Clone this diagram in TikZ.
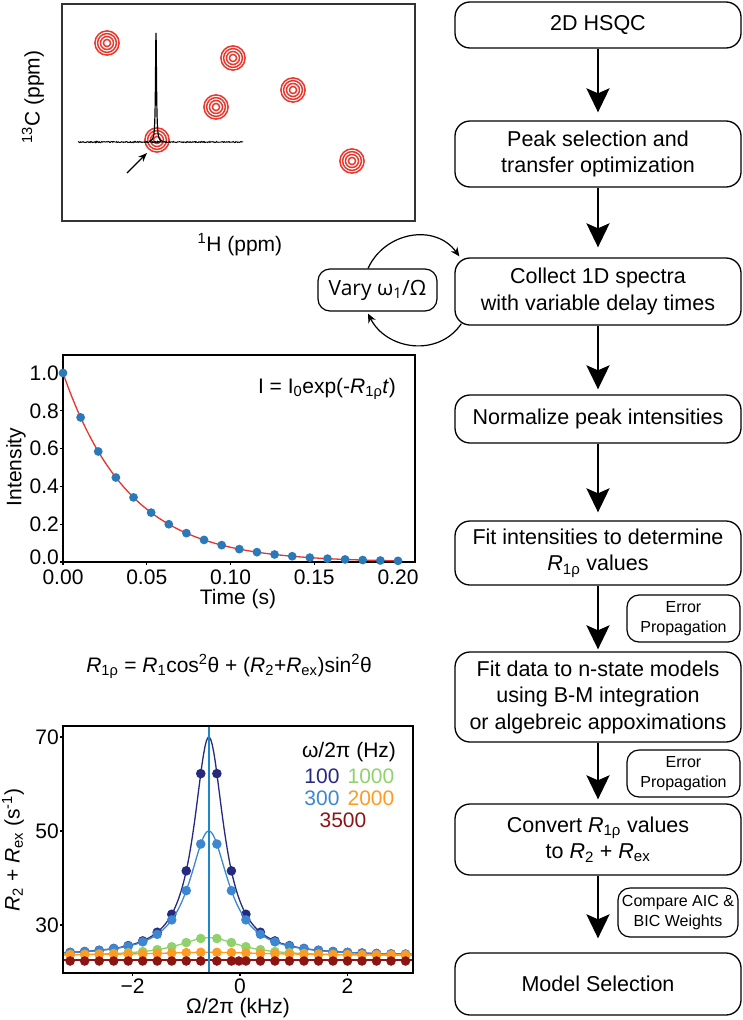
\documentclass[tikz,border=0pt]{standalone}
\usepackage{fontspec}
\setmainfont{Liberation Sans}
\newfontfamily\opensans{Open Sans}
\usetikzlibrary{arrows.meta}
\definecolor{ringred}{HTML}{E8372C}
\definecolor{ptblue}{HTML}{2A7AB9}
\definecolor{fitred}{HTML}{E8322B}
\definecolor{cnavy}{HTML}{252A7E}
\definecolor{cblue}{HTML}{3D87D0}
\definecolor{cgreen}{HTML}{8FD16A}
\definecolor{corange}{HTML}{FF9A22}
\definecolor{cdred}{HTML}{8B1515}
\definecolor{vline}{HTML}{1F86C8}
\pgfmathdeclarefunction{lrz}{4}{\pgfmathparse{#2+#3/(1+((#1+0.58)/#4)*((#1+0.58)/#4))}}
\begin{document}
\begin{tikzpicture}[x=1pt,y=-1pt,
  flow/.style={draw, line width=1.3pt, rounded corners=15pt, minimum width=286pt, align=center, inner sep=0pt, font=\fontsize{21.5}{26.5}\selectfont},
  smallbox/.style={draw, line width=1.2pt, rounded corners=12pt, align=center, inner sep=0pt, font=\fontsize{16}{20}\selectfont},
  flowarrow/.style={-{Stealth[length=24pt,width=23pt,inset=5pt]}, line width=2.6pt},
  looparrow/.style={-{Stealth[length=9pt,width=8pt]}, line width=1.2pt},
  lbl/.style={font=\fontsize{21}{25}\selectfont, inner sep=0pt},
  frame/.style={line width=1.4pt},
  tick/.style={line width=1.2pt}]
\useasboundingbox (0,0) rectangle (742,1020);

% ---------------- Spectrum panel ----------------
\draw[frame, draw=black!80] (62,4) rectangle (415,221);
\foreach \cx/\cy in {107/43,233/58,293/90,216/107,157/140,352/161}{
  \foreach \r in {3.6,6.5,9.4,12.1}
    \draw[ringred, line width=1.5pt] (\cx,\cy) circle[radius=\r pt];
}
\pgfmathsetseed{7}
\draw[line width=0.9pt] plot[domain=78:243, samples=300] (\x,{142+0.6*rand});
\draw[line width=1.2pt] plot[domain=149:163, samples=141] (\x,{142-109/(1+((\x-156)/0.6)*((\x-156)/0.6))});
\coordinate (sa) at (127,173);
\coordinate (sb) at (147,153);
\draw[-{Stealth[length=9pt,width=7pt]}, line width=1.2pt] (sa) -- (sb);
\node[lbl, rotate=90] (ylab1) at (33,97) {\textsuperscript{13}C (ppm)};
\node[lbl, anchor=base] (xlab1) at (240,251) {\textsuperscript{1}H (ppm)};

% ---------------- Plot 1 ----------------
\draw[frame] (63,355) rectangle (415,562);
\foreach \v/\t in {0.2/0.2,0.4/0.4,0.6/0.6,0.8/0.8,1.0/1.0}{
  \draw[tick] (63,{562-189*\v}) -- (60,{562-189*\v});
  \node[lbl, anchor=east] at (59,{562-189*\v}) {\t};
}
\draw[tick] (63,562) -- (60,562);
\node[lbl, anchor=east] (y00) at (59,557) {0.0};
\foreach \v/\t in {0/0.00,0.05/0.05,0.10/0.10,0.15/0.15,0.20/0.20}{
  \draw[tick] ({63+1675*\v},562) -- ({63+1675*\v},565);
  \node[lbl, anchor=base] at ({63+1675*\v},584) {\t};
}
\draw[fitred, line width=1.3pt] plot[domain=0:0.2, samples=120] ({63+1675*\x},{562-189*exp(-25.5*\x)});
\foreach \k in {0,...,19}{
  \pgfmathsetmacro{\tt}{\k*0.2/19}
  \fill[ptblue] ({63+1675*\tt},{562-189*exp(-25.5*\tt)}) circle[radius=4.4pt];
}
\node[lbl, anchor=base] (f1) at (327,393) {I = I\textsubscript{0}exp(-\textit{R}\textsubscript{1ρ}\textit{t})};
\node[lbl, rotate=90] (ylab2) at (16,467) {Intensity};
\node[lbl, anchor=base] (xlab2) at (238,604) {Time (s)};

% ---------------- Equation ----------------
\node[lbl, anchor=base] (eq) at (229,672) {\textit{R}\textsubscript{1ρ} = \textit{R}\textsubscript{1}cos\textsuperscript{2}θ + (\textit{R}\textsubscript{2}+\textit{R}\textsubscript{ex})sin\textsuperscript{2}θ};

% ---------------- Plot 2 ----------------
\begin{scope}
\clip (63,726) rectangle (413,973);
\def\pts{-3.16,-2.89,-2.62,-2.35,-2.08,-1.81,-1.54,-1.27,-1.00,-0.73,-0.43,-0.16,0.11,0.38,0.65,0.92,1.19,1.46,1.73,2.00,2.27,2.54,2.81,3.08}
% navy 100
\draw[cnavy, line width=1.3pt] plot[domain=-3.3:3.23, samples=240] ({240+53.75*\x},{925-4.7*(lrz(\x,23.4,46.6,0.335)-30)});
\foreach \p in \pts { \fill[cnavy] ({240+53.75*\p},{925-4.7*(lrz(\p,23.4,46.6,0.335)-30)}) circle[radius=4.8pt]; }
% blue 300
\draw[cblue, line width=1.3pt] plot[domain=-3.3:3.23, samples=240] ({240+53.75*\x},{925-4.7*(lrz(\x,23.4,26.6,0.44)-30)});
\foreach \p in \pts { \fill[cblue] ({240+53.75*\p},{925-4.7*(lrz(\p,23.4,26.6,0.44)-30)}) circle[radius=4.8pt]; }
% green 1000
\draw[cgreen, line width=1.3pt] plot[domain=-3.3:3.23, samples=200] ({240+53.75*\x},{925-4.7*(lrz(\x,23.4,3.9,0.7)-30)});
\foreach \p in \pts { \fill[cgreen] ({240+53.75*\p},{925-4.7*(lrz(\p,23.4,3.9,0.7)-30)}) circle[radius=4.8pt]; }
% orange 2000
\draw[corange, line width=1.3pt] plot[domain=-3.3:3.23, samples=100] ({240+53.75*\x},{925-4.7*(lrz(\x,23.6,0.6,1.2)-30)});
\foreach \p in \pts { \fill[corange] ({240+53.75*\p},{925-4.7*(lrz(\p,23.6,0.6,1.2)-30)}) circle[radius=4.8pt]; }
% dark red 3500
\draw[cdred, line width=1.3pt] (63,960) -- (413,960);
\foreach \p in {-3.16,-2.89,-2.62,-2.35,-2.08,-1.81,-1.54,-1.27,-1.00,-0.73,-0.43,-0.16,-0.02,0.11,0.38,0.65,0.92,1.19,1.46,1.73,2.00,2.27,2.54,2.81,3.08} { \fill[cdred] ({240+53.75*\p},961) circle[radius=4.8pt]; }
\draw[vline, line width=1.4pt] (209,726) -- (209,973);
\end{scope}
\draw[frame] (63,726) rectangle (413,973);
\foreach \v in {30,50,70}{
  \draw[tick] (63,{925-4.7*(\v-30)}) -- (60,{925-4.7*(\v-30)});
  \node[lbl, anchor=east] at (59,{925-4.7*(\v-30)}) {\v};
}
\foreach \v/\t in {-2/−2,0/0,2/2}{
  \draw[tick] ({240+53.75*\v},973) -- ({240+53.75*\v},976);
  \node[lbl, anchor=base] at ({240+53.75*\v},993) {\t};
}
\node[lbl, rotate=90] (ylab3) at (13,850) {\textit{R}\textsubscript{2} + \textit{R}\textsubscript{ex} (s\textsuperscript{-1})};
\node[lbl, anchor=base] (xlab3) at (238,1013) {Ω/2π (kHz)};
\node[lbl, anchor=base] (lg0) at (349,757) {ω/2π (Hz)};
\node[lbl, anchor=base, text=cnavy] (lg1) at (322,783) {100};
\node[lbl, anchor=base, text=cgreen] (lg2) at (371,783) {1000};
\node[lbl, anchor=base, text=cblue] (lg3) at (322,805) {300};
\node[lbl, anchor=base, text=corange] (lg4) at (371,805) {2000};
\node[lbl, anchor=base, text=cdred] (lg5) at (343,827) {3500};

% ---------------- Flowchart ----------------
\node[flow, minimum height=46pt] (b1) at (598,25) {2D HSQC};
\node[flow, minimum height=66pt] (b2) at (598,154) {Peak selection and\\transfer optimization};
\node[flow, minimum height=67pt] (b3) at (598,291.5) {Collect 1D spectra\\with variable delay times};
\node[flow, minimum height=48pt] (b4) at (598,419) {Normalize peak intensities};
\node[flow, minimum height=64pt] (b5) at (598,553) {Fit intensities to determine\\\textit{R}\textsubscript{1ρ} values};
\node[flow, minimum height=90pt] (b6) at (598,697) {Fit data to n-state models\\using B-M integration\\or algebreic appoximations};
\node[flow, minimum height=71pt] (b7) at (598,839.5) {Convert \textit{R}\textsubscript{1ρ} values\\to \textit{R}\textsubscript{2} + \textit{R}\textsubscript{ex}};
\node[flow, minimum height=62pt] (b8) at (598,984) {Model Selection};

\node[smallbox, minimum width=113pt, minimum height=47pt] (e1) at (683.5,618.5) {Error\\Propagation};
\node[smallbox, minimum width=113pt, minimum height=47pt] (e2) at (683.5,773.5) {Error\\Propagation};
\node[smallbox, minimum width=120pt, minimum height=49pt] (e3) at (678,912.5) {Compare AIC \&\\BIC Weights};

\draw[flowarrow, shorten >=8pt] (b1.south) -- (b2.north);
\draw[flowarrow, shorten >=10pt] (b2.south) -- (b3.north);
\draw[flowarrow, shorten >=5pt] (b3.south) -- (b4.north);
\draw[flowarrow, shorten >=8pt] (b4.south) -- (b5.north);
\draw[flowarrow, shorten >=2pt] (b5.south) -- (b6.north);
\draw[flowarrow, shorten >=4pt] (b6.south) -- (b7.north);
\draw[flowarrow, shorten >=14pt] (b7.south) -- (b8.north);

% ---------------- Loop ----------------
\node[draw, line width=1.2pt, rounded corners=12pt, minimum width=119pt, minimum height=42pt, inner sep=0pt, font=\opensans\fontsize{21}{25}\selectfont] (vary) at (377.5,290) {Vary ω\textsubscript{1}/Ω};
\draw[looparrow] ([xshift=-9.5pt]vary.north) .. controls +(17,-37) and +(-24,-33) .. ([xshift=5pt,yshift=1pt]b3.north west);
\draw[looparrow] ([xshift=7pt,yshift=2pt]b3.south west) .. controls +(-23,34) and +(18.5,36.5) .. ([xshift=-9.5pt,yshift=-2pt]vary.south);
\end{tikzpicture}
\end{document}
